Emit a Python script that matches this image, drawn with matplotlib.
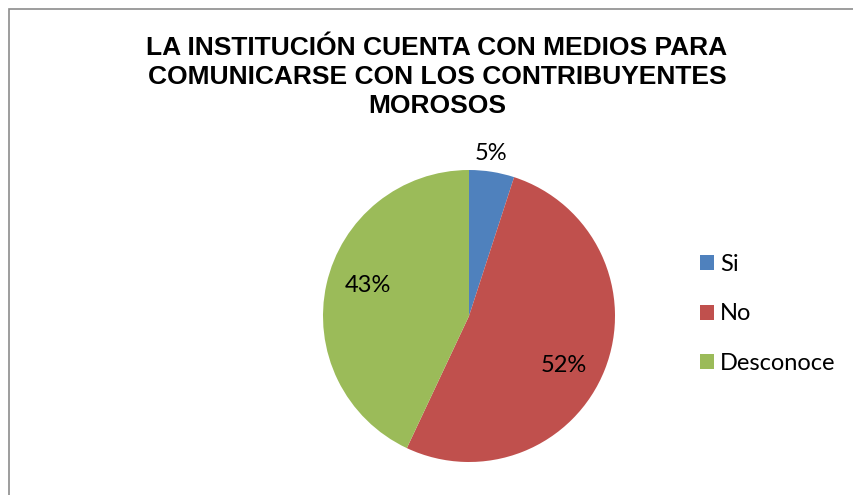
import matplotlib.pyplot as plt
from matplotlib.patches import Rectangle

categories = ['Si', 'No', 'Desconoce']
values = [5, 52, 43]
colors = ['#4F81BD', '#C0504D', '#9BBB59']
title = 'LA INSTITUCIÓN CUENTA CON MEDIOS PARA\nCOMUNICARSE CON LOS CONTRIBUYENTES\nMOROSOS'

# where each percentage label sits, in pie-radius units
label_pos = [(0.15, 1.11), (0.65, -0.34), (-0.69, 0.21)]

W, H = 854, 495
fig = plt.figure(figsize=(W / 100, H / 100), dpi=100)

# chart frame (only top/left edges fall inside the image)
fig.patches.append(Rectangle((9 / W, -0.1), 1.2, (H - 9) / H + 0.1,
                             transform=fig.transFigure, fill=False,
                             edgecolor='#8c8c8c', linewidth=1.2))

cx, cy, r = 469, 316, 146
ax = fig.add_axes([(cx - r) / W, (H - cy - r) / H, 2 * r / W, 2 * r / H])
wedges, texts, autotexts = ax.pie(values, colors=colors, startangle=90,
                                  counterclock=False, autopct='%d%%',
                                  radius=1,
                                  textprops=dict(family='Lato', fontsize=17))
ax.set_xlim(-1, 1)
ax.set_ylim(-1, 1)
ax.set_aspect('equal')

for t, pos in zip(autotexts, label_pos):
    t.set_position(pos)
    t.set_va('center')

fig.text(437 / W, 1 - 77 / H, title, ha='center', va='center',
         family='Liberation Sans', fontweight='bold', fontsize=19,
         linespacing=1.27)

leg = fig.legend(wedges, categories, loc='center left',
                 bbox_to_anchor=(688 / W, 1 - 314 / H), frameon=False,
                 prop=dict(family='Lato', size=17), handlelength=0.6,
                 handleheight=0.6, handletextpad=0.25, labelspacing=1.2,
                 borderpad=0)

fig.savefig('out.png', dpi=100)
